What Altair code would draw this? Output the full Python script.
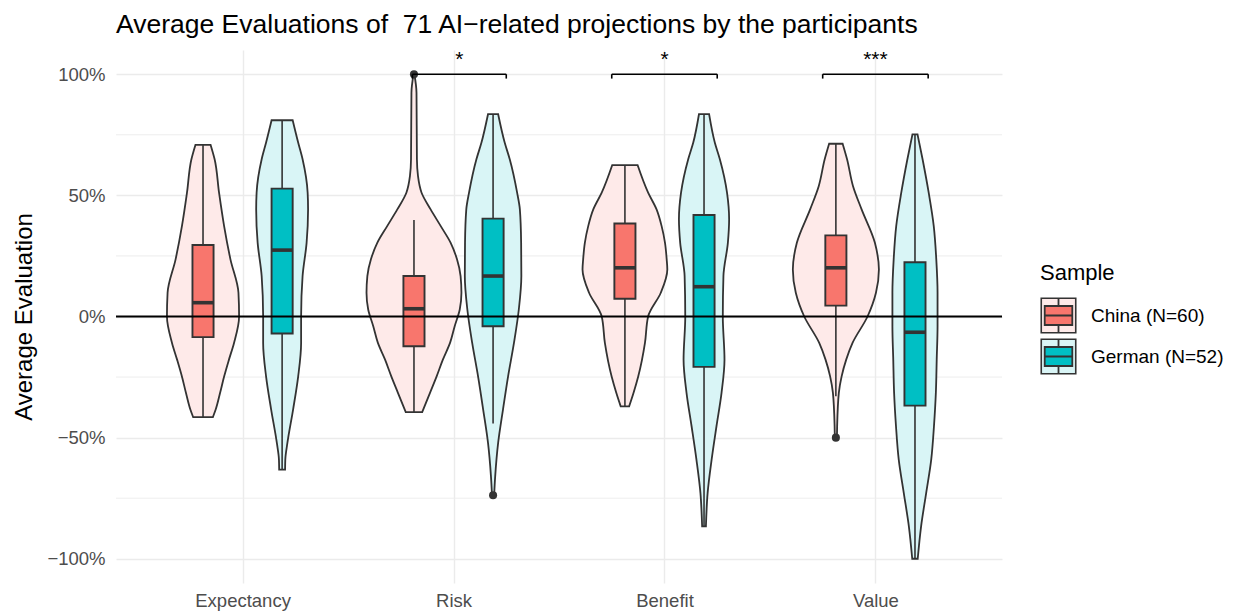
import altair as alt
import pandas as pd

# ---------------- data ----------------
categories = ["Expectancy", "Risk", "Benefit", "Value"]
samples = ["China (N=60)", "German (N=52)"]
colors = ["#F8766D", "#00BFC4"]
light_colors = ["#FEEAE9", "#D9F5F6"]

# violin outlines: evaluation levels and half-widths (category units)
china_expectancy_v = [0.708, 0.649, 0.511, 0.373, 0.236, 0.098, 0.0, -0.109, -0.178, -0.248, -0.315, -0.384, -0.415]
china_expectancy_w = [0.036, 0.055, 0.076, 0.100, 0.130, 0.168, 0.171, 0.147, 0.123, 0.100, 0.081, 0.060, 0.047]
german_expectancy_v = [0.810, 0.718, 0.649, 0.511, 0.442, 0.304, 0.167, 0.0, -0.109, -0.248, -0.384, -0.522, -0.591, -0.632]
german_expectancy_w = [0.050, 0.076, 0.097, 0.121, 0.123, 0.116, 0.097, 0.090, 0.090, 0.076, 0.052, 0.025, 0.015, 0.014]
china_risk_v = [1.0, 0.924, 0.649, 0.580, 0.511, 0.442, 0.373, 0.304, 0.236, 0.167, 0.098, 0.029, -0.040, -0.109, -0.178, -0.248, -0.315, -0.395]
china_risk_w = [0.002, 0.012, 0.014, 0.019, 0.036, 0.079, 0.127, 0.174, 0.204, 0.221, 0.225, 0.217, 0.193, 0.171, 0.137, 0.107, 0.076, 0.039]
german_risk_v = [0.835, 0.718, 0.649, 0.511, 0.442, 0.304, 0.167, 0.029, -0.109, -0.248, -0.384, -0.522, -0.660, -0.738]
german_risk_w = [0.024, 0.055, 0.079, 0.114, 0.127, 0.133, 0.134, 0.122, 0.099, 0.071, 0.047, 0.024, 0.010, 0.005]
china_benefit_v = [0.625, 0.511, 0.442, 0.373, 0.304, 0.236, 0.194, 0.098, 0.0, -0.109, -0.248, -0.315, -0.371]
china_benefit_w = [0.060, 0.110, 0.150, 0.174, 0.190, 0.198, 0.201, 0.170, 0.110, 0.095, 0.063, 0.041, 0.020]
german_benefit_v = [0.835, 0.718, 0.649, 0.511, 0.401, 0.304, 0.167, 0.0, -0.178, -0.315, -0.453, -0.591, -0.729, -0.866]
german_benefit_w = [0.024, 0.051, 0.075, 0.109, 0.119, 0.113, 0.092, 0.089, 0.097, 0.083, 0.059, 0.036, 0.017, 0.009]
china_value_v = [0.713, 0.649, 0.539, 0.442, 0.304, 0.194, 0.098, 0.0, -0.109, -0.178, -0.248, -0.315, -0.453, -0.5]
china_value_w = [0.032, 0.053, 0.081, 0.122, 0.185, 0.204, 0.190, 0.150, 0.079, 0.049, 0.027, 0.014, 0.006, 0.005]
german_value_v = [0.752, 0.649, 0.511, 0.373, 0.236, 0.098, -0.040, -0.178, -0.315, -0.453, -0.591, -0.729, -0.866, -1.0]
german_value_w = [0.012, 0.036, 0.065, 0.089, 0.101, 0.107, 0.107, 0.103, 0.099, 0.090, 0.077, 0.053, 0.029, 0.013]

# box plot statistics per category
china_lo = [-0.415, -0.395, -0.371, -0.329]
china_q1 = [-0.085, -0.123, 0.073, 0.045]
china_med = [0.057, 0.032, 0.201, 0.201]
china_q3 = [0.295, 0.167, 0.384, 0.335]
china_hi = [0.708, 0.398, 0.625, 0.713]
german_lo = [-0.632, -0.442, -0.866, -1.0]
german_q1 = [-0.070, -0.040, -0.208, -0.368]
german_med = [0.274, 0.167, 0.123, -0.065]
german_q3 = [0.528, 0.404, 0.419, 0.224]
german_hi = [0.810, 0.835, 0.835, 0.752]

# outliers
outlier_category = ["Risk", "Risk", "Value"]
outlier_sample = ["China (N=60)", "German (N=52)", "China (N=60)"]
outlier_value = [1.0, -0.738, -0.5]

# significance brackets
sig_category = ["Risk", "Benefit", "Value"]
sig_label = ["*", "*", "***"]
sig_left = [-0.195, -0.25, -0.25]
sig_right = [0.25, 0.25, 0.25]
sig_level = [1.0, 1.0, 1.0]
sig_tick_end = [0.982, 0.982, 0.982]
sig_text_level = [1.058, 1.058, 1.058]

y_major = [-1.0, -0.5, 0.0, 0.5, 1.0]
y_minor = [-0.75, -0.25, 0.25, 0.75]
zero_line = [0.0]

# ---------------- build tables ----------------
dodge = 0.1875
box_half = 0.05
offset = {samples[0]: -dodge, samples[1]: dodge}

profiles = {
    (samples[0], "Expectancy"): (china_expectancy_v, china_expectancy_w),
    (samples[1], "Expectancy"): (german_expectancy_v, german_expectancy_w),
    (samples[0], "Risk"): (china_risk_v, china_risk_w),
    (samples[1], "Risk"): (german_risk_v, german_risk_w),
    (samples[0], "Benefit"): (china_benefit_v, china_benefit_w),
    (samples[1], "Benefit"): (german_benefit_v, german_benefit_w),
    (samples[0], "Value"): (china_value_v, china_value_w),
    (samples[1], "Value"): (german_value_v, german_value_w),
}

rows = []
for (s, c), (vs, ws) in profiles.items():
    xc = categories.index(c) + 1 + offset[s]
    for v, w in zip(vs, ws):
        rows.append({"group": f"{s}-{c}", "sample": s, "v": v, "xl": xc - w, "xr": xc + w})
violin_df = pd.DataFrame(rows)

brows = []
stats = {samples[0]: (china_lo, china_q1, china_med, china_q3, china_hi),
         samples[1]: (german_lo, german_q1, german_med, german_q3, german_hi)}
for s, (lo, q1, med, q3, hi) in stats.items():
    for i, c in enumerate(categories):
        xc = i + 1 + offset[s]
        brows.append({"sample2": s, "xc": xc, "bl": xc - box_half, "br": xc + box_half,
                      "lo": lo[i], "q1": q1[i], "med": med[i], "q3": q3[i], "hi": hi[i]})
box_df = pd.DataFrame(brows)

out_df = pd.DataFrame({
    "x": [categories.index(c) + 1 + offset[s] for c, s in zip(outlier_category, outlier_sample)],
    "v": outlier_value,
})

sig_df = pd.DataFrame({
    "label": sig_label,
    "xl": [categories.index(c) + 1 + l for c, l in zip(sig_category, sig_left)],
    "xr": [categories.index(c) + 1 + r for c, r in zip(sig_category, sig_right)],
    "lev": sig_level,
    "tick": sig_tick_end,
    "tlev": sig_text_level,
})
sig_df["xm"] = (sig_df["xl"] + sig_df["xr"]) / 2

# ---------------- chart ----------------
FONT = "Liberation Sans"
DARK = "#333333"
xscale = alt.Scale(domain=[0.4, 4.6], nice=False, zero=False)
yscale = alt.Scale(domain=[-1.1, 1.1], nice=False, zero=False)

label_expr = "[''," + ",".join(f"'{c}'" for c in categories) + "][datum.value]"
xaxis = alt.Axis(values=[1, 2, 3, 4], labelExpr=label_expr, title=None, grid=True,
                 gridColor="#EBEBEB", gridWidth=1.4, labelPadding=8, labelFontSize=18.5)
yaxis = alt.Axis(values=y_major, format=".0%", title="Average Evaluation", grid=True,
                 gridColor="#EBEBEB", gridWidth=1.4, labelPadding=11, labelFontSize=18.5,
                 titleFontSize=24, titleFontWeight="normal", titleColor="black", titlePadding=10)


def X(field):
    return alt.X(field, scale=xscale, axis=xaxis)


def Y(field):
    return alt.Y(field, scale=yscale, axis=yaxis)


legend_common = dict(orient="none", legendX=924, legendY=213, symbolSize=1190,
                     symbolStrokeColor=DARK, labelFontSize=19, titleFontSize=22,
                     titleFontWeight="normal", labelOffset=14, rowPadding=0, padding=0,
                     titlePadding=12, labelFont=FONT, titleFont=FONT)
legend_violin = alt.Legend(title="Sample", symbolType="square", symbolStrokeWidth=1.6,
                           titleColor="black", labelColor="black", **legend_common)
box_path = "M-0.8,-0.55H0.8V0.55H-0.8Z M0,-0.55V-0.95 M0,0.55V0.95 M-0.8,0H0.8"
legend_box = alt.Legend(title="Sample", symbolType=box_path, symbolStrokeWidth=1.8,
                        labelOpacity=0, titleOpacity=0, **legend_common)

minor = alt.Chart(pd.DataFrame({"v": y_minor})).mark_rule(color="#EBEBEB", strokeWidth=0.9).encode(
    y=Y("v:Q")
)

violins = alt.Chart(violin_df).mark_area(
    orient="horizontal", interpolate="monotone", stroke=DARK, strokeWidth=1.8
).encode(
    y=Y("v:Q"),
    x=X("xl:Q"),
    x2="xr:Q",
    fill=alt.Fill("sample:N", scale=alt.Scale(domain=samples, range=light_colors), legend=legend_violin),
    detail="group:N",
)

whiskers = alt.Chart(box_df).mark_rule(color=DARK, strokeWidth=1.6).encode(
    x=X("xc:Q"), y=Y("lo:Q"), y2="hi:Q",
)

boxes = alt.Chart(box_df).mark_rect(stroke=DARK, strokeWidth=1.9).encode(
    x=X("bl:Q"), x2="br:Q", y=Y("q1:Q"), y2="q3:Q",
    color=alt.Color("sample2:N", scale=alt.Scale(domain=samples, range=colors), legend=legend_box),
)

medians = alt.Chart(box_df).mark_rule(color=DARK, strokeWidth=3.6).encode(
    x=X("bl:Q"), x2="br:Q", y=Y("med:Q"),
)

outliers = alt.Chart(out_df).mark_circle(size=65, color=DARK, opacity=1).encode(
    x=X("x:Q"), y=Y("v:Q"),
)

zero = alt.Chart(pd.DataFrame({"v": zero_line})).mark_rule(color="black", strokeWidth=1.8).encode(
    y=Y("v:Q")
)

bracket = alt.Chart(sig_df).mark_rule(color="black", strokeWidth=1.6).encode(
    x=X("xl:Q"), x2="xr:Q", y=Y("lev:Q"),
)
tick_l = alt.Chart(sig_df).mark_rule(color="black", strokeWidth=1.6).encode(
    x=X("xl:Q"), y=Y("lev:Q"), y2="tick:Q",
)
tick_r = alt.Chart(sig_df).mark_rule(color="black", strokeWidth=1.6).encode(
    x=X("xr:Q"), y=Y("lev:Q"), y2="tick:Q",
)
stars = alt.Chart(sig_df).mark_text(fontSize=21, font=FONT, color="black", baseline="middle").encode(
    x=X("xm:Q"), y=Y("tlev:Q"), text="label:N",
)

chart = alt.layer(
    minor, violins, whiskers, boxes, medians, outliers, zero, bracket, tick_l, tick_r, stars
).resolve_legend(fill="independent", color="independent").properties(
    width=886,
    height=533,
    padding={"left": 108, "top": 42, "right": 222, "bottom": 28},
    autosize=alt.AutoSizeParams(type="none"),
    title=alt.TitleParams(
        "Average Evaluations of \u00a071 AI\u2212related projections by the participants",
        anchor="start", frame="group", fontSize=26.5, font=FONT, fontWeight="normal",
        color="black", offset=11,
    ),
).configure_view(stroke=None).configure_axis(
    domain=False, ticks=False, labelFont=FONT, titleFont=FONT, labelColor="#4D4D4D",
)

chart.save("out.html", embed_options={"renderer": "svg", "actions": False})
